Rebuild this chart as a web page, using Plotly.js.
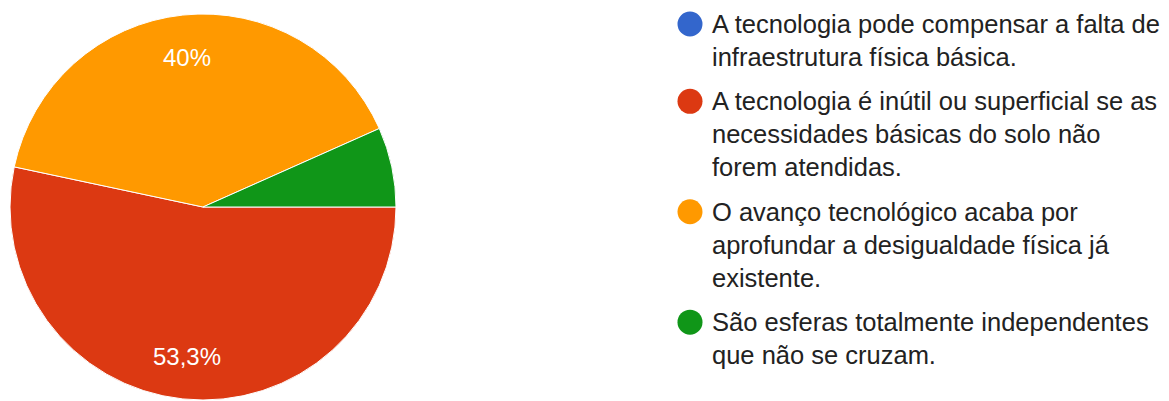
<!DOCTYPE html>
<html>
<head>
<meta charset="utf-8">
<script src="https://cdn.plot.ly/plotly-3.0.1.min.js"></script>
<style>html,body{margin:0;padding:0;background:#fff;}#chart{width:1169px;height:401px;}</style>
</head>
<body>
<div id="chart"></div>
<script>
// ---- data ----
var categories = [
  "A tecnologia pode compensar a falta de<br>infraestrutura física básica.",
  "A tecnologia é inútil ou superficial se as<br>necessidades básicas do solo não<br>forem atendidas.",
  "O avanço tecnológico acaba por<br>aprofundar a desigualdade física já<br>existente.",
  "São esferas totalmente independentes<br>que não se cruzam."
];
var values = [0, 8, 6, 1];
var colors = ["#3366cc", "#dc3912", "#ff9900", "#109618"];

// ---- layout helpers ----
var W = 1169, H = 401;
function px(x) { return x / W; }
function py(y) { return 1 - y / H; }

var total = values.reduce(function (a, b) { return a + b; }, 0);
function pctText(v) {
  var p = v / total * 100;
  return (Math.round(p * 10) / 10).toString().replace(".", ",") + "%";
}

var cx = 203, cy = 207, R = 193;
var startDeg = 90; // first slice starts at 3 o'clock, clockwise

var trace = {
  type: "pie",
  labels: categories,
  values: values,
  textinfo: "none",
  sort: false,
  direction: "clockwise",
  rotation: startDeg,
  marker: { colors: colors, line: { color: "#ffffff", width: 1 } },
  showlegend: false,
  hoverinfo: "label+percent",
  domain: { x: [px(cx - R), px(cx + R)], y: [py(cy + R), py(cy - R)] }
};

var annotations = [], shapes = [];

// ---- slice percentage labels (placed on each slice's mid-angle) ----
var cum = 0;
for (var k = 0; k < values.length; k++) {
  var frac = values[k] / total;
  var midClock = (cum + frac / 2) * 360; // degrees clockwise from start
  cum += frac;
  if (frac < 0.1) continue;
  var theta = (startDeg - 90 + midClock) * Math.PI / 180; // clockwise from east
  var lx = cx + 0.78 * R * Math.cos(theta);
  var ly = cy + 0.78 * R * Math.sin(theta);
  annotations.push({
    xref: "paper", yref: "paper", x: px(lx), y: py(ly),
    xanchor: "center", yanchor: "middle", showarrow: false,
    borderpad: 0, borderwidth: 0,
    text: pctText(values[k]),
    font: { family: "Liberation Sans, Arial, sans-serif", size: 24, color: "#ffffff" }
  });
}

// ---- custom legend (circles + wrapped text) ----
var lineH = 33.15, gap = 11, firstBaseline = 33, ascent = 23;
var baseline = firstBaseline;
for (var i = 0; i < categories.length; i++) {
  var nLines = categories[i].split("<br>").length;
  annotations.push({
    xref: "paper", yref: "paper",
    x: px(712), y: py(baseline - ascent),
    xanchor: "left", yanchor: "top", align: "left",
    showarrow: false, borderpad: 0, borderwidth: 0,
    text: categories[i],
    font: { family: "Liberation Sans, Arial, sans-serif", size: 25.5, color: "#222222" }
  });
  var ccy = baseline - 9, r = 12.5;
  shapes.push({
    type: "circle", xref: "paper", yref: "paper",
    x0: px(690 - r), x1: px(690 + r), y0: py(ccy + r), y1: py(ccy - r),
    fillcolor: colors[i], line: { width: 0 }
  });
  baseline += nLines * lineH + gap;
}

var layout = {
  width: W, height: H,
  margin: { l: 0, r: 0, t: 0, b: 0 },
  paper_bgcolor: "#ffffff",
  separators: ",.",
  showlegend: false,
  annotations: annotations,
  shapes: shapes
};

Plotly.newPlot("chart", [trace], layout, { displayModeBar: false, staticPlot: true });
</script>
</body>
</html>
